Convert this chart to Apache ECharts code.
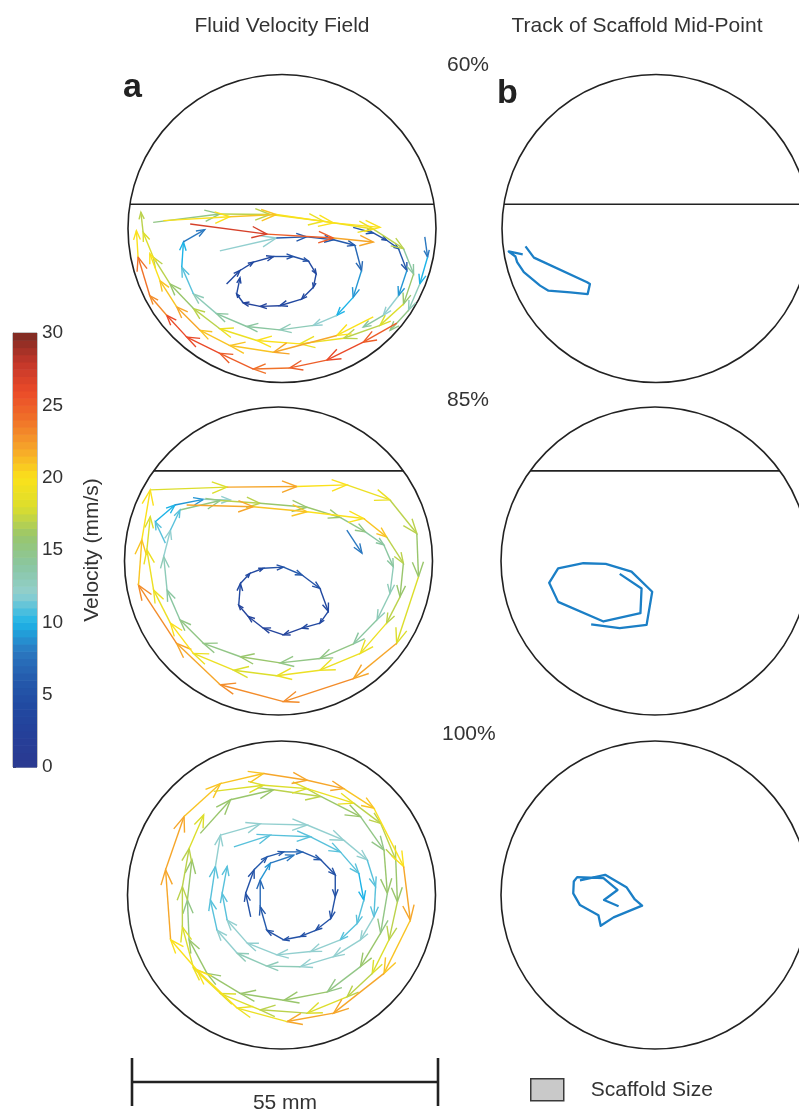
<!DOCTYPE html>
<html>
<head>
<meta charset="utf-8">
<script src="https://cdn.jsdelivr.net/npm/echarts/dist/echarts.min.js"></script>
<style>
  html, body { margin: 0; padding: 0; background: #fff; }
  #chart { width: 799px; height: 1112px; }
</style>
</head>
<body>
<div id="chart"></div>
<script>
// ---- data (mm, relative to the vessel centre; y up) ----
// each field chain: [x, y, velocity of the arrow leaving this point]
let p60Inner = [[-9.9,-9.9,4],[-7.5,-7.5,4],[-5.1,-6.0,4],[-1.5,-5.0,5],[2.0,-5.0,5],[4.7,-5.8,4],[6.1,-8.1,4],[5.6,-10.5,4],[3.5,-12.6,4],[-0.4,-13.8,3],[-3.9,-13.9,3],[-6.9,-13.3,4],[-8.1,-11.7,4],[-7.5,-8.8]];
let p60Blue = [[-11.1,-4.0,12],[-1.0,-1.7,6],[4.4,-1.5,6],[9.2,-2.0,6],[13.0,-3.0,7],[14.2,-7.5,9],[12.7,-12.3,10],[9.8,-15.5,12],[5.6,-17.3,13],[-0.4,-18.1,14],[-6.3,-17.5,14],[-11.7,-15.2,13],[-15.8,-11.7,11],[-17.9,-6.9,10],[-17.6,-2.4,8],[-13.8,-0.2]];
let p60Right = [[12.7,0.2,6],[16.3,-0.8,5],[18.7,-2.1,5],[20.8,-3.6,6],[22.3,-7.5,9],[20.8,-12.0,12],[18.1,-15.5,14],[14.5,-17.6]];
let p60Edge = [[25.5,-1.5,8],[26.0,-5.1,10],[24.6,-9.9,13],[22.6,-14.6,15],[19.3,-18.2]];
let p60Mid = [[-23.0,1.1,15],[-11.1,2.6,17],[-2.1,2.5,19],[7.4,1.3,19],[16.3,-0.1,17],[21.7,-3.6,14],[23.5,-8.1,16],[21.7,-13.5,18],[17.5,-17.3,17],[11.0,-19.6,19],[3.2,-20.6,20],[-4.5,-20.0,19],[-11.1,-17.9,17],[-15.8,-14.3,16],[-20.0,-9.9,17],[-23.0,-5.1,18],[-24.8,-0.7,17],[-25.2,2.9]];
let p60Outer = [[20.5,-16.9,25],[14.5,-20.3,26],[8.0,-23.5,25],[1.4,-24.9,24],[-5.1,-25.1,25],[-11.1,-22.3,26],[-17.0,-19.4,26],[-20.6,-15.5,23],[-23.6,-12.0,24],[-25.7,-5.1,20],[-26.0,-0.4]];
let p60Top = [[-16.4,0.8,27],[-2.7,-1.0,25],[9.2,-1.7,22],[16.3,-2.4]];
let p60Upper = [[-21.2,1.4,20],[-9.3,2.1,21],[-1.0,2.5,20],[9.2,1.0,20],[17.5,0.2]];
let p60Lower = [[16.3,-15.8,20],[9.8,-19.1,22],[-1.5,-22.1,21],[-9.3,-20.9,21],[-14.6,-18.2,22],[-18.8,-14.0,21],[-21.8,-9.3,20],[-23.6,-4.5]];

let p85Inner = [[-6.8,-4.0,4],[-5.1,-2.2,4],[-2.7,-1.3,5],[0.9,-1.1,6],[4.2,-2.5,5],[7.4,-4.9,4],[8.9,-9.0,4],[7.4,-11.1,4],[4.2,-12.0,3],[0.9,-13.2,3],[-2.7,-12.0,3],[-5.4,-9.9,3],[-7.1,-7.9,4],[-6.8,-4.0]];
let p85Cyan = [[-20.2,3.2,11],[-22.0,7.0,10],[-18.5,10.0,9],[-13.4,11.0,12],[-8.6,10.9]];
let p85Blue = [[12.2,5.5,8],[14.9,1.4]];
let p85Mid = [[-17.6,9.1,15],[-10.4,10.8,17],[-3.3,10.3,16],[5.1,9.6,16],[11.0,7.8,15],[15.5,5.2,14],[18.8,2.9,14],[20.5,-1.0,13],[19.9,-5.8,13],[17.6,-10.5,14],[13.4,-14.8,15],[7.4,-17.4,15],[0.3,-18.2,16],[-6.8,-17.1,15],[-13.4,-14.7,15],[-17.6,-10.5,14],[-19.9,-5.2,13],[-20.5,0.8,12],[-19.3,5.5,11],[-17.6,9.1]];
let p85Outer = [[-22.9,12.7,18],[-9.2,13.2,22],[3.3,13.3,20],[12.2,13.6,19],[19.9,10.9,17],[24.7,4.9,16],[25.0,-2.8,18],[21.1,-14.7,22],[13.4,-21.0,23],[0.9,-25.1,23],[-10.4,-22.1,22],[-18.2,-14.7,23],[-25.0,-4.3,21],[-24.4,3.8,20],[-22.9,12.7]];
let p85Yellow = [[-16.4,10.0,22],[-4.5,9.7,21],[5.1,8.8,20],[15.2,7.6,21],[19.3,4.3,17],[22.3,-0.4,16],[21.7,-6.4,17],[19.3,-11.1,19],[14.6,-16.5,19],[7.4,-19.5,19],[-0.3,-20.5,18],[-8.0,-19.5,19],[-15.2,-16.5,20],[-19.3,-11.1,19],[-22.3,-5.2,19],[-23.5,2.0,18],[-22.9,7.9]];

let p100Inner = [[-5.5,-3.9,5],[-6.4,0.3,5],[-4.9,4.5,6],[-2.6,6.8,6],[0.4,7.7,7],[3.7,7.7,6],[7.0,6.3,5],[9.6,3.6,5],[9.6,-0.3,5],[8.8,-4.2,5],[6.1,-6.3,5],[3.4,-7.4,5],[0.4,-8.0,5],[-2.6,-6.3,6],[-3.8,-2.1,7],[-3.8,2.7,9],[-2.0,5.7,8],[2.2,7.1]];
let p100Cyan1 = [[-10.9,10.7,12],[-3.8,12.7,12],[4.6,12.5,12],[11.1,9.8,12],[15.3,6.3,11],[16.8,1.5,11],[16.5,-3.9,12],[14.1,-8.0,12],[9.3,-11.0,12],[3.4,-12.8,13],[-2.6,-12.7,13],[-7.9,-10.4,12],[-11.5,-6.3,11],[-12.7,-0.9,11],[-11.8,5.1,12],[-10.9,10.7]];
let p100Cyan2 = [[-8.5,8.6,11],[-2.0,10.7,11],[5.2,10.4,11],[10.5,7.7,11],[13.8,3.9,10],[14.7,-0.9,11],[13.5,-5.1,11],[10.5,-8.0,12],[5.2,-10.1,12],[-0.8,-10.7,12],[-6.1,-8.6,12],[-9.7,-4.5,11],[-10.6,0.3,11],[-9.7,5.1]];
let p100Green = [[-14.5,11.0,16],[-9.1,17.0,16],[-1.4,18.8,17],[7.0,17.6,16],[14.1,14.0,15],[18.3,8.0,16],[18.9,0.3,15],[17.7,-6.8,16],[14.1,-12.8,15],[8.2,-17.3,16],[0.4,-18.8,16],[-7.3,-17.6,16],[-13.3,-14.0,16],[-16.5,-8.0,15],[-16.8,-0.9,16],[-16.0,6.3]];
let p100Yellow = [[-12.1,18.5,18],[-3.2,19.6,18],[4.6,19.0,19],[12.9,16.4,17],[17.7,12.8,17],[20.4,6.3,16],[20.7,-1.2,17],[19.2,-8.0,18],[16.2,-14.0,17],[11.7,-18.2,18],[4.6,-21.1,17],[-3.8,-20.5,18],[-10.9,-17.6,19],[-15.7,-13.1,18],[-17.7,-5.7,17],[-17.7,1.5,17],[-16.5,8.3,18],[-13.9,14.3]];
let p100Outer = [[-19.8,-8.0,22],[-20.7,4.5,22],[-17.4,14.0,21],[-10.9,19.9,21],[-3.2,21.7,22],[4.6,20.5,22],[11.1,19.0,21],[16.5,15.5,20],[21.8,5.1,22],[23.0,-4.5,21],[18.3,-14.0,22],[9.3,-21.1,22],[1.0,-22.6,19],[-7.9,-20.2,20],[-15.1,-13.4,20],[-19.8,-8.0]];

// scaffold mid-point tracks
let track60 = [[-23.3,-3.2],[-21.8,-5.2],[-12.3,-9.6],[-11.8,-9.9],[-12.2,-11.7],[-15.3,-11.4],[-19.2,-11.1],[-20.7,-10.2],[-23.6,-7.8],[-24.8,-6.0],[-25.1,-5.0],[-26.3,-4.1],[-23.8,-4.6]];
let track85 = [[-6.3,-2.3],[-2.4,-4.9],[-2.6,-9.3],[-9.2,-10.8],[-17.3,-7.3],[-18.9,-3.9],[-17.3,-1.3],[-12.8,-0.4],[-8.8,-0.5],[-4.2,-1.9],[-0.5,-5.5],[-1.5,-11.4],[-6.3,-12.0],[-11.4,-11.3]];
let track100 = [[-13.4,2.6],[-8.9,3.6],[-5.1,1.4],[-3.6,-0.8],[-2.3,-1.9],[-7.4,-4.0],[-9.7,-5.5],[-10.1,-3.6],[-13.4,-1.8],[-14.6,0.3],[-14.5,2.4],[-13.9,3.2],[-9.2,3.0],[-6.7,0.9],[-9.1,-0.9],[-6.5,-2.0]];

let fillFractions = [0.60, 0.85, 1.00];
let fillLabels = ["60%", "85%", "100%"];
let vesselRadius = 27.5; // mm
let scaleBar = [[-27.5, 27.5]]; // 55 mm
let velocityRange = [0, 30];
let velocityTicks = 5;

let fields = [
  [p60Inner, p60Blue, p60Right, p60Edge, p60Mid, p60Outer, p60Top, p60Upper, p60Lower],
  [p85Inner, p85Cyan, p85Blue, p85Mid, p85Outer, p85Yellow],
  [p100Inner, p100Cyan1, p100Cyan2, p100Green, p100Yellow, p100Outer],
];
let tracks = [track60, track85, track100];

// ---- layout / style ----
const FONT = '"Liberation Sans", Arial, Helvetica, sans-serif';
const TXT = "#333";
const W = 799;
const jetColors = ["#2b3990", "#263f98", "#2148a0", "#2459ab", "#2b78c0", "#1db3e7", "#92cfcf", "#8ac6a0",
  "#99c66c", "#dcde2c", "#fbe11b", "#f6a62a", "#f07229", "#ea4a29", "#c2372a", "#7b2a22"];
const panelBoxes = [[128, 74.5], [124.5, 407], [127.5, 741], [502, 74.5], [501, 407], [501, 741]];
const PANEL = 308;

function chainToArrows(chain) {
  let out = [];
  for (let k = 0; k < chain.length - 1; k++) {
    out.push([chain[k][0], chain[k][1], chain[k + 1][0], chain[k + 1][1], chain[k][2]]);
  }
  return out;
}

// height of the fluid surface (as fraction of radius) for a filled area fraction
function levelFromFraction(f) {
  let lo = -1, hi = 1;
  for (let i = 0; i < 60; i++) {
    let d = (lo + hi) / 2;
    let a = 0.5 + (d * Math.sqrt(1 - d * d) + Math.asin(d)) / Math.PI;
    if (a < f) lo = d; else hi = d;
  }
  return (lo + hi) / 2;
}

function renderVessel(params, api) {
  let c = api.coord([0, 0]);
  let r = api.size([vesselRadius, vesselRadius])[1];
  let frac = api.value(2);
  let children = [{
    type: "circle",
    shape: { cx: c[0], cy: c[1], r: r },
    style: { stroke: "#222", lineWidth: 1.6, fill: "none" },
  }];
  if (frac < 1) {
    let h = levelFromFraction(frac) * vesselRadius;
    let w = Math.sqrt(vesselRadius * vesselRadius - h * h);
    let a = api.coord([-w, h]), b = api.coord([w, h]);
    children.push({
      type: "line",
      shape: { x1: a[0], y1: a[1], x2: b[0], y2: b[1] },
      style: { stroke: "#222", lineWidth: 1.6 },
    });
  }
  return { type: "group", children: children };
}

function renderArrow(params, api) {
  let p0 = api.coord([api.value(0), api.value(1)]);
  let p1 = api.coord([api.value(2), api.value(3)]);
  let dx = p1[0] - p0[0], dy = p1[1] - p0[1];
  let len = Math.sqrt(dx * dx + dy * dy) || 1;
  let ux = dx / len, uy = dy / len;
  let hl = Math.min(15, len * 0.34), hw = hl * 0.38;
  let bx = p1[0] - ux * hl, by = p1[1] - uy * hl;
  let color = api.visual("color");
  return {
    type: "group",
    children: [
      { type: "line", shape: { x1: p0[0], y1: p0[1], x2: p1[0], y2: p1[1] },
        style: { stroke: color, lineWidth: 1.4 } },
      { type: "polyline", shape: { points: [[bx - uy * hw, by + ux * hw], [p1[0], p1[1]], [bx + uy * hw, by - ux * hw]] },
        style: { stroke: color, lineWidth: 1.4, fill: "none" } },
    ],
  };
}

function renderBand(params, api) {
  let p0 = api.coord([api.value(0), api.value(1)]);
  let p1 = api.coord([api.value(2), api.value(3)]);
  return {
    type: "rect",
    shape: { x: p0[0], y: p1[1], width: p1[0] - p0[0], height: p0[1] - p1[1] + 0.6 },
    style: { fill: api.visual("color") },
  };
}

function renderScaleBar(params, api) {
  let a = api.coord([api.value(0), 0]), b = api.coord([api.value(1), 0]);
  let at = api.coord([api.value(0), 1]), ab = api.coord([api.value(0), -1]);
  let st = { stroke: "#222", lineWidth: 2.6 };
  return {
    type: "group",
    children: [
      { type: "line", shape: { x1: a[0], y1: a[1], x2: b[0], y2: b[1] }, style: st },
      { type: "line", shape: { x1: a[0], y1: at[1], x2: a[0], y2: ab[1] }, style: st },
      { type: "line", shape: { x1: b[0], y1: at[1], x2: b[0], y2: ab[1] }, style: st },
    ],
  };
}

let grid = [], xAxis = [], yAxis = [], series = [], colorSeries = [];
panelBoxes.forEach(function (b, i) {
  // right-hand vessels run past the page edge: keep the grid on the page, keep mm/px the same
  let w = Math.min(PANEL, W - b[0]);
  grid.push({ left: b[0], top: b[1], width: w, height: PANEL });
  xAxis.push({ type: "value", gridIndex: i, min: -vesselRadius,
    max: -vesselRadius + 2 * vesselRadius * w / PANEL, show: false });
  yAxis.push({ type: "value", gridIndex: i, min: -vesselRadius, max: vesselRadius, show: false });
  series.push({
    type: "custom", xAxisIndex: i, yAxisIndex: i, silent: true, z: 2,
    renderItem: renderVessel, data: [[0, 0, fillFractions[i % 3]]],
  });
});

fields.forEach(function (chains, i) {
  let arrows = [];
  chains.forEach(function (c) { arrows = arrows.concat(chainToArrows(c)); });
  colorSeries.push(series.length);
  series.push({
    type: "custom", xAxisIndex: i, yAxisIndex: i, silent: true, z: 3,
    renderItem: renderArrow, data: arrows,
  });
});

tracks.forEach(function (t, i) {
  series.push({
    type: "line", xAxisIndex: i + 3, yAxisIndex: i + 3, data: t, silent: true, z: 3,
    showSymbol: false, symbol: "none",
    lineStyle: { color: "#1b7fc6", width: 2.3, join: "round" },
  });
});

// colour bar (grid 6)
grid.push({ left: 13, top: 333, width: 24, height: 434, show: true, borderColor: "#888", borderWidth: 1 });
xAxis.push({ type: "value", gridIndex: 6, min: 0, max: 1, show: false });
yAxis.push({
  type: "value", gridIndex: 6, min: velocityRange[0], max: velocityRange[1], interval: velocityTicks,
  position: "right",
  axisLine: { show: true, lineStyle: { color: "#777" } },
  axisTick: { show: true, inside: false, length: 3, lineStyle: { color: "#555" } },
  splitLine: { show: false },
  axisLabel: { fontSize: 19, color: TXT, margin: 5, fontFamily: FONT },
  name: "Velocity (mm/s)", nameLocation: "middle", nameRotate: 90, nameGap: 45,
  nameTextStyle: { fontSize: 21, color: TXT, fontFamily: FONT },
});
let bands = [];
for (let v = velocityRange[0]; v < velocityRange[1]; v += 0.5) bands.push([0, v, 1, v + 0.5, v + 0.25]);
colorSeries.push(series.length);
series.push({ type: "custom", xAxisIndex: 6, yAxisIndex: 6, silent: true, renderItem: renderBand, data: bands });

// scale bar (grid 7)
grid.push({ left: 132, top: 1058, width: 306, height: 48 });
xAxis.push({ type: "value", gridIndex: 7, min: -vesselRadius, max: vesselRadius, show: false });
yAxis.push({ type: "value", gridIndex: 7, min: -1, max: 1, show: false });
series.push({ type: "custom", xAxisIndex: 7, yAxisIndex: 7, silent: true, renderItem: renderScaleBar, data: scaleBar });
series.push({
  type: "custom", name: "Scaffold Size", xAxisIndex: 7, yAxisIndex: 7,
  renderItem: function () { return null; }, data: [],
  itemStyle: { color: "#c9c9c9" },
});

let title = [
  { text: "Fluid Velocity Field", left: 282, top: 16, textAlign: "center" },
  { text: "Track of Scaffold Mid-Point", left: 637, top: 16, textAlign: "center" },
  { text: fillLabels[0], left: 447, top: 55, textAlign: "left" },
  { text: fillLabels[1], left: 447, top: 390, textAlign: "left" },
  { text: fillLabels[2], left: 442, top: 724, textAlign: "left" },
  { text: "55 mm", left: 285, top: 1093, textAlign: "center" },
].map(function (t) {
  t.padding = 0;
  t.textStyle = { fontSize: 21, fontWeight: "normal", color: TXT, fontFamily: FONT };
  return t;
});
title.push({ text: "a", left: 123, top: 71, padding: 0, textAlign: "left",
  textStyle: { fontSize: 34, fontWeight: "bold", color: "#222", fontFamily: FONT } });
title.push({ text: "b", left: 497, top: 77, padding: 0, textAlign: "left",
  textStyle: { fontSize: 34, fontWeight: "bold", color: "#222", fontFamily: FONT } });

let option = {
  animation: false,
  backgroundColor: "#fff",
  title: title,
  legend: {
    left: 530, top: 1078, padding: 0, itemWidth: 33, itemHeight: 22, selectedMode: false,
    data: [{ name: "Scaffold Size", icon: "rect",
      itemStyle: { color: "#c9c9c9", borderColor: "#3a3a3a", borderWidth: 1.5 } }],
    textStyle: { fontSize: 21, color: TXT, fontFamily: FONT, padding: [0, 0, 0, 22] },
  },
  visualMap: {
    type: "continuous", show: false, min: velocityRange[0], max: velocityRange[1], dimension: 4,
    seriesIndex: colorSeries, inRange: { color: jetColors },
  },
  grid: grid,
  xAxis: xAxis,
  yAxis: yAxis,
  series: series,
};

let chart = echarts.init(document.getElementById("chart"));
chart.setOption(option);
</script>
</body>
</html>
